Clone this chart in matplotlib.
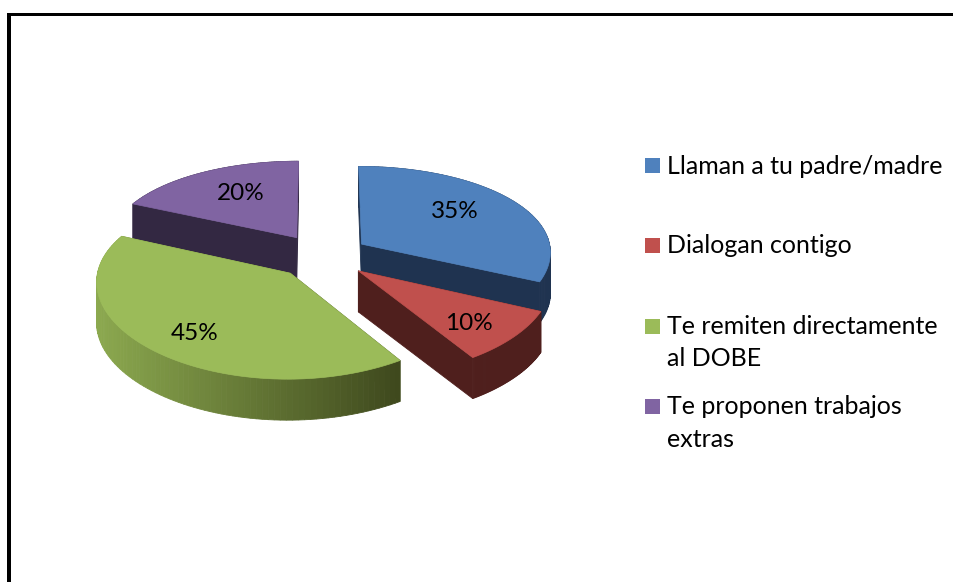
import numpy as np
import matplotlib
matplotlib.use("Agg")
import matplotlib.pyplot as plt
from matplotlib.patches import Polygon, Rectangle
from matplotlib.colors import to_rgb

# ---- data ----
categories = [["Llaman a tu padre/madre"], ["Dialogan contigo"],
              ["Te remiten directamente", "al DOBE"], ["Te proponen trabajos", "extras"]]
values = [35, 10, 45, 20]
value_labels = ["35%", "10%", "45%", "20%"]

# ---- styles ----
top_colors = ["#4F81BD", "#C0504D", "#9BBB59", "#8064A2"]
wall_colors = ["#1F3350", "#4F1F1D", "#3F4A1E", "#332842"]
GREEN_LIGHT = "#8CA94F"
GREEN_DARK = "#3E481D"

# projection of the tilted pie
CX, CY = 322.0, 256.0
SX, SY = 190.0, 89.3
GX, GY = 0.08, 0.116
DEPTH = 41.0
EXPLODE = 0.25


def proj(X, Y):
    return CX + SX * X / (1 + GX * Y), CY - SY * Y / (1 + GY * Y)


plt.rcParams["font.family"] = ["Lato", "DejaVu Sans"]
fig = plt.figure(figsize=(9.54, 5.82), dpi=100)
ax = fig.add_axes([0, 0, 1, 1])
ax.set_xlim(0, 954)
ax.set_ylim(582, 0)
ax.axis("off")

# frame: only the top and left sides fall inside the picture
ax.add_patch(Rectangle((7.5, 13), 946.5, 3, fc="black", ec="none", zorder=1))
ax.add_patch(Rectangle((7.5, 13), 4, 569, fc="black", ec="none", zorder=1))

fr = np.array(values, float) / sum(values)
edges = np.concatenate([[0], np.cumsum(fr)]) * 2 * np.pi


def wedge_outline(i):
    a0, a1 = edges[i], edges[i + 1]
    mid = (a0 + a1) / 2
    ox, oy = EXPLODE * np.sin(mid), EXPLODE * np.cos(mid)
    t = np.linspace(a0, a1, 90)
    X = np.concatenate([[ox], ox + np.sin(t)])
    Y = np.concatenate([[oy], oy + np.cos(t)])
    return proj(X, Y)


def wall_color(i, x):
    if i != 2:
        return wall_colors[i]
    f = np.clip((x - 97) / (400 - 97), 0, 1)
    a, b = np.array(to_rgb(GREEN_LIGHT)), np.array(to_rgb(GREEN_DARK))
    return tuple(a + (b - a) * f)


z = 2
for i in [3, 0, 2, 1]:  # painter's order, back to front
    u, v = wedge_outline(i)
    n = len(u)
    quads = sorted(((v[k] + v[(k + 1) % n], k, (k + 1) % n) for k in range(n)))
    for _, k, m in quads:
        col = wall_color(i, (u[k] + u[m]) / 2)
        ax.add_patch(Polygon([(u[k], v[k]), (u[m], v[m]),
                              (u[m], v[m] + DEPTH), (u[k], v[k] + DEPTH)],
                             closed=True, fc=col, ec=col, lw=0.6, zorder=z))
    z += 1
    ax.add_patch(Polygon(np.column_stack([u, v]), closed=True,
                         fc=top_colors[i], ec=top_colors[i], lw=0.5, zorder=z))
    z += 1

# value labels
label_xy = [(455, 218), (469, 330), (194.5, 340), (241, 200)]
for (x, y), s in zip(label_xy, value_labels):
    ax.text(x, y, s, ha="center", va="baseline", fontsize=17.5, color="black", zorder=50)

# legend
swatch_y = [165.5, 245.5, 326, 406]
baselines = [[174], [253], [334, 366], [414, 447]]
for c, sy, lines, bases in zip(top_colors, swatch_y, categories, baselines):
    ax.add_patch(Rectangle((645, sy - 7.5), 15, 15, fc=c, ec="none", zorder=50))
    for s, b in zip(lines, bases):
        ax.text(667, b, s, ha="left", va="baseline", fontsize=18, color="black", zorder=50)

fig.savefig("out.png", dpi=100)
